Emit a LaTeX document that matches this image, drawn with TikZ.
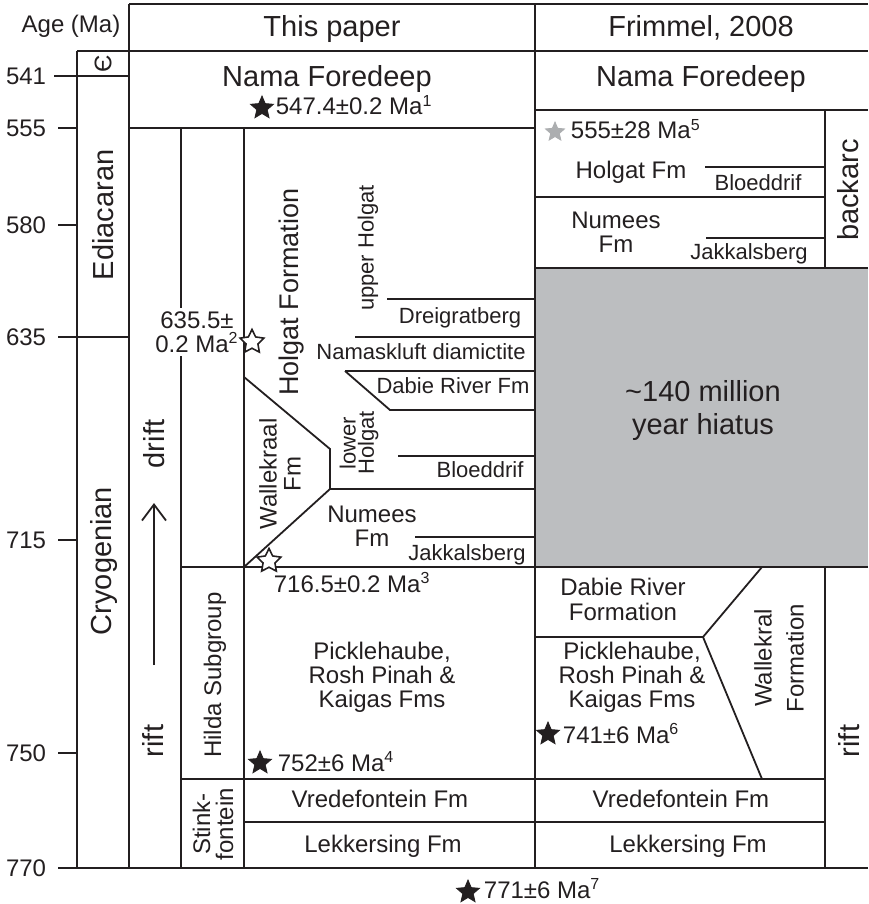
\documentclass[tikz,border=0pt]{standalone}
\usepackage{fontspec}
\setmainfont{Liberation Sans}
\usepackage{tikz}
\usepackage{xcolor}
\usetikzlibrary{shapes.geometric,arrows.meta}
\definecolor{ink}{RGB}{35,31,32}
\definecolor{hiatusgray}{RGB}{188,190,192}
\definecolor{stargray}{RGB}{172,174,176}

\begin{document}
\begin{tikzpicture}[x=0.5pt,y=-0.5pt,line width=0.9pt,draw=ink,text=ink,
  lbl/.style={font=\fontsize{12}{12}\selectfont,inner sep=0pt,align=center},
  sml/.style={font=\fontsize{11}{11}\selectfont,inner sep=0pt,align=center},
  big/.style={font=\fontsize{14.5}{16}\selectfont,inner sep=0pt,align=center},
  blkstar/.style={star,star points=5,star point ratio=2.2,minimum size=12pt,inner sep=0pt,draw=ink,fill=ink,line width=0.4pt},
  openstar/.style={blkstar,fill=white,line width=0.8pt,star point ratio=2,minimum size=12.5pt},
  greystar/.style={blkstar,draw=stargray,fill=stargray,minimum size=10pt}]
\useasboundingbox (0,0) rectangle (868,904);
% hiatus block
\fill[hiatusgray] (535,268) rectangle (868,567);
% frame and columns
\draw (129,4) -- (868,4);
\draw (77,51) -- (868,51);
\draw (77,51) -- (77,868);
\draw (129,4) -- (129,868);
\draw (181,128) -- (181,868);
\draw (244,128) -- (244,868);
\draw (535,4) -- (535,868);
\draw (825,110) -- (825,268);
\draw (825,567) -- (825,868);
\draw (129,128) -- (535,128);
\draw (535,110) -- (868,110);
% age ticks
\draw (54,76) -- (129,76);
\draw (58,128) -- (77,128);
\draw (58,225) -- (77,225);
\draw (58,337) -- (129,337);
\draw (58,540) -- (77,540);
\draw (58,753) -- (77,753);
\draw (58,868) -- (868,868);
% this paper, upper part
\draw (387,299) -- (535,299);
\draw (355,337) -- (535,337);
\draw (345,371) -- (535,371);
\draw (345,371) -- (390,410) -- (535,410);
\draw (398,456) -- (535,456);
\draw (244,377) -- (330,449) -- (330,489) -- (244,567);
\draw (330,489) -- (535,489);
\draw (415,537) -- (535,537);
\draw (181,567) -- (868,567);
\draw (535,268) -- (868,268);
% lower part
\draw (181,779) -- (825,779);
\draw (244,822) -- (825,822);
% Frimmel, upper part
\draw (705,167) -- (825,167);
\draw (535,197) -- (825,197);
\draw (706,238) -- (825,238);
% Frimmel, lower part
\draw (535,637) -- (703,637) -- (762,567);
\draw (703,637) -- (762,779);
% rift to drift
\coordinate (riftend) at (154,665);
\coordinate (drifttip) at (154,503);
\draw[-{Straight Barb[length=8pt,width=12pt]}] (riftend) -- (drifttip);

% age axis
\node[lbl,anchor=base] (agehead) at (71,33) {Age (Ma)};
\node[lbl,anchor=east] (a541) at (47,76) {541};
\node[lbl,anchor=east] (a555) at (47,128) {555};
\node[lbl,anchor=east] (a580) at (47,225) {580};
\node[lbl,anchor=east] (a635) at (47,337) {635};
\node[lbl,anchor=east] (a715) at (47,540) {715};
\node[lbl,anchor=east] (a750) at (47,753) {750};
\node[lbl,anchor=east] (a770) at (47,868) {770};
\node[lbl,rotate=90] (cambrian) at (103,64) {Є};
\node[big,rotate=90] (ediacaran) at (103,215) {Ediacaran};
\node[big,rotate=90] (cryogenian) at (104,561) {Cryogenian};
\node[big,rotate=90] (drift) at (154,444) {drift};
\node[big,rotate=90] (rift) at (153,741) {rift};

% headers
\node[big,anchor=base] (thispaper) at (332,37) {This paper};
\node[big,anchor=base] (frimmel) at (701,37) {Frimmel, 2008};

% this paper
\node[big,anchor=base] (namaL) at (327,87) {Nama Foredeep};
\node[blkstar] (star1) at (262,108) {};
\node[lbl,anchor=base west] (date1) at (275,115) {547.4±0.2 Ma\textsuperscript{1}};
\node[lbl,fill=white,inner xsep=1pt,inner ysep=2pt] (date2) at (197,332) {635.5±\\0.2 Ma\textsuperscript{2}};
\node[openstar] (star2) at (252,342) {};
\node[font=\fontsize{13.5}{14}\selectfont,inner sep=0pt,rotate=90] (holgatfm) at (292,292) {Holgat Formation};
\node[sml,rotate=90] (upperholgat) at (368,248) {upper Holgat};
\node[sml,anchor=base] (dreigratL) at (460,323) {Dreigratberg};
\node[sml,anchor=base] (namaskluft) at (421,359) {Namaskluft diamictite};
\node[sml,anchor=base] (dabieL) at (453,393) {Dabie River Fm};
\node[sml,rotate=90,font=\fontsize{11}{8}\selectfont] (lowerholgat) at (359,443) {lower\\Holgat};
\node[sml,anchor=base] (bloedL) at (480,477) {Bloeddrif};
\node[lbl,rotate=90] (wallekraalL) at (280,474) {Wallekraal\\Fm};
\node[lbl] (numeesL) at (372,526) {Numees\\Fm};
\node[sml,anchor=base] (jakkalsL) at (467,560) {Jakkalsberg};
\node[openstar] (star3) at (269,561) {};
\node[lbl,anchor=base west] (date3) at (273,592) {716.5±0.2 Ma\textsuperscript{3}};
\node[lbl,rotate=90] (hilda) at (215,675) {Hilda Subgroup};
\node[lbl] (pickleL) at (382,677) {Picklehaube,\\Rosh Pinah \&\\Kaigas Fms};
\node[blkstar] (star4) at (260,763) {};
\node[lbl,anchor=base west] (date4) at (277,771) {752±6 Ma\textsuperscript{4}};
\node[lbl,rotate=90,font=\fontsize{12}{11.5}\selectfont] (stinkfontein) at (213,824) {Stink-\\fontein};
\node[lbl,anchor=base] (vredeL) at (380,807) {Vredefontein Fm};
\node[lbl,anchor=base] (lekkerL) at (383,852) {Lekkersing Fm};
\node[blkstar] (star7) at (468,892) {};
\node[lbl,anchor=base west] (date7) at (483,898) {771±6 Ma\textsuperscript{7}};

% Frimmel
\node[big,anchor=base] (namaR) at (701,87) {Nama Foredeep};
\node[greystar] (star5) at (555,132) {};
\node[lbl,anchor=base west] (date5) at (570,139) {555±28 Ma\textsuperscript{5}};
\node[lbl,anchor=base] (holgatR) at (631,178) {Holgat Fm};
\node[sml,anchor=base] (bloedR) at (758,190) {Bloeddrif};
\node[lbl] (numeesR) at (616,232) {Numees\\Fm};
\node[sml,anchor=base] (jakkalsR) at (749,259) {Jakkalsberg};
\node[big,rotate=90] (backarc) at (848,190) {backarc};
\node[big,font=\fontsize{14.5}{16.5}\selectfont] (hiatus) at (703,410) {\textasciitilde 140 million\\year hiatus};
\node[lbl,font=\fontsize{12}{12.5}\selectfont] (dabieR) at (623,599) {Dabie River\\Formation};
\node[lbl] (pickleR) at (632,677) {Picklehaube,\\Rosh Pinah \&\\Kaigas Fms};
\node[blkstar] (star6) at (548,734) {};
\node[lbl,anchor=base west] (date6) at (562,743) {741±6 Ma\textsuperscript{6}};
\node[lbl,rotate=90,font=\fontsize{12}{16}\selectfont] (wallekralR) at (779,658) {Wallekral\\Formation};
\node[big,rotate=90] (riftR) at (849,741) {rift};
\node[lbl,anchor=base] (vredeR) at (681,807) {Vredefontein Fm};
\node[lbl,anchor=base] (lekkerR) at (688,852) {Lekkersing Fm};
\end{tikzpicture}
\end{document}
